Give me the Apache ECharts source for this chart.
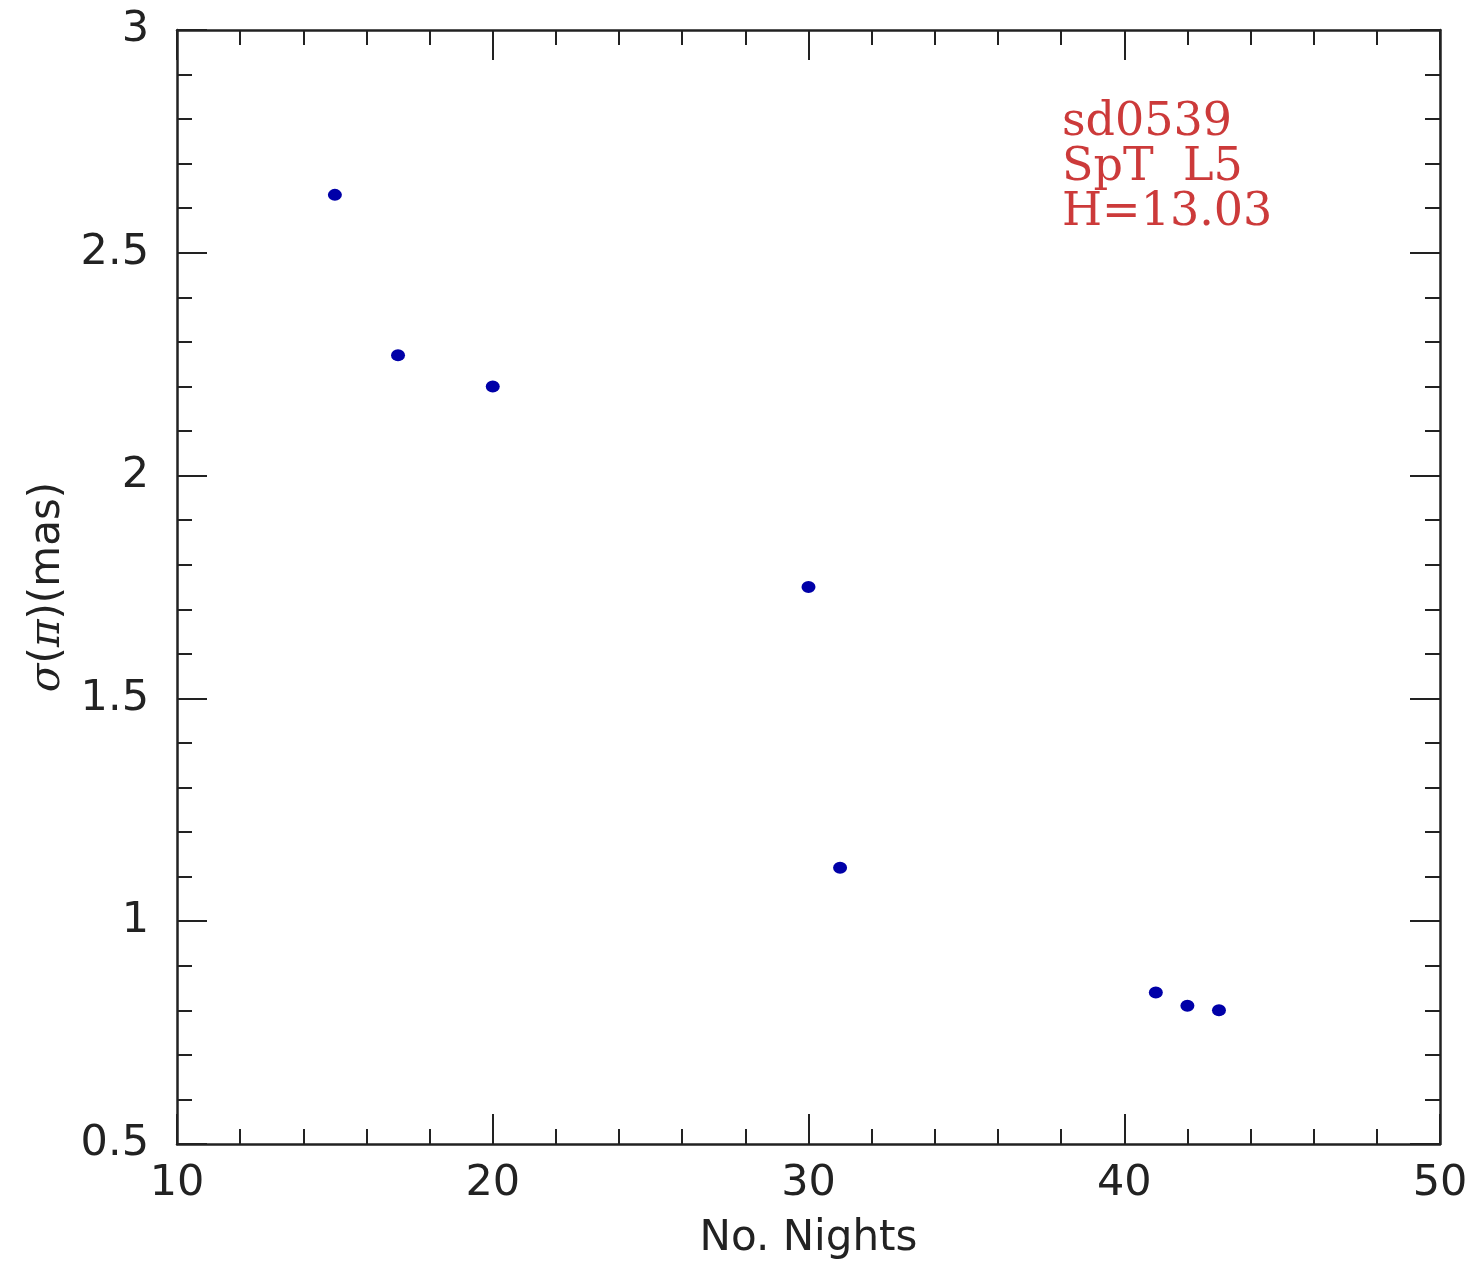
<!DOCTYPE html>
<html>
<head>
<meta charset="utf-8">
<script src="https://cdn.jsdelivr.net/npm/echarts@6/dist/echarts.min.js"></script>
<style>
  html, body { margin: 0; padding: 0; background: #fff; }
  #chart { width: 1474px; height: 1265px; }
</style>
</head>
<body>
<div id="chart"></div>
<script>
// sigma(parallax) vs number of nights
const nights = [15, 17, 20, 30, 31, 41, 42, 43];
const sigmaPi = [2.63, 2.27, 2.20, 1.75, 1.12, 0.84, 0.81, 0.80];
const infoLines = ['sd0539', 'SpT  L5', 'H=13.03'];

const chart = echarts.init(document.getElementById('chart'));

const tickFont = { fontFamily: 'DejaVu Sans', fontSize: 43, color: '#222' };
const lineStyle = { color: '#222', width: 2.5 };

// axis shared by all four sides; labels only on bottom / left
const makeAxis = (extra) => Object.assign({
  type: 'value',
  axisLine: { show: true, lineStyle },
  axisTick: { show: true, inside: true, length: 30, lineStyle: { color: '#222', width: 2 } },
  minorTick: { show: true, splitNumber: 5, length: 15, lineStyle: { color: '#222', width: 2 } },
  splitLine: { show: false },
}, extra);

const option = {
  backgroundColor: '#fff',
  animation: false,
  grid: { left: 177, right: 34, top: 30, bottom: 120 },
  xAxis: [
    makeAxis({
      min: 10, max: 50, interval: 10, position: 'bottom',
      axisLabel: Object.assign({ margin: 18 }, tickFont),
      name: 'No. Nights', nameLocation: 'middle', nameGap: 74,
      nameTextStyle: { fontFamily: 'DejaVu Sans', fontSize: 42, color: '#222' },
    }),
    makeAxis({ min: 10, max: 50, interval: 10, position: 'top', axisLabel: { show: false } }),
  ],
  yAxis: [
    makeAxis({
      min: 0.5, max: 3, interval: 0.5, position: 'left',
      axisLabel: Object.assign({ margin: 28, formatter: (v) => String(+v.toFixed(1)) }, tickFont),
      name: '{i|σ}({i|π})(mas)', nameLocation: 'middle', nameGap: 108, nameRotate: 90,
      nameTextStyle: {
        fontFamily: 'DejaVu Sans', fontSize: 42, color: '#222',
        rich: { i: { fontFamily: 'DejaVu Serif', fontStyle: 'italic', fontSize: 42, color: '#222' } },
      },
    }),
    makeAxis({ min: 0.5, max: 3, interval: 0.5, position: 'right', axisLabel: { show: false } }),
  ],
  graphic: [
    {
      type: 'text', left: 1062, top: 100,
      style: {
        text: infoLines.join('\n'),
        font: '46px "DejaVu Serif"',
        lineHeight: 45,
        fill: '#cc3a3a',
      },
    },
  ],
  series: [
    {
      type: 'scatter',
      xAxisIndex: 0, yAxisIndex: 0,
      symbol: 'circle',
      symbolSize: [14, 12],
      itemStyle: { color: '#0000a8', opacity: 1 },
      data: nights.map((n, i) => [n, sigmaPi[i]]),
    },
  ],
};

chart.setOption(option);
</script>
</body>
</html>
